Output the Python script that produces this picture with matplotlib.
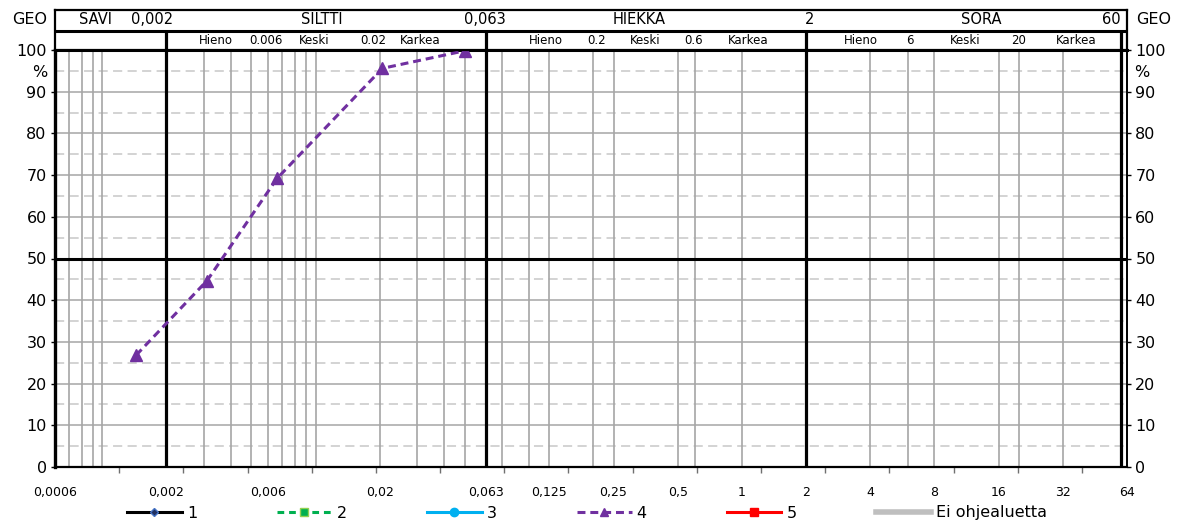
import matplotlib
matplotlib.use('Agg')
import matplotlib.pyplot as plt

# Rakeisuuskayra (naytteen 4 pisteet, luettu kuvasta)
raekoko = [0.00144, 0.0031, 0.0066, 0.0206, 0.05]   # mm
lapaisy = [26.8, 44.7, 69.2, 95.6, 99.8]            # %

# x-akselin tekstit
x_arvot = [0.0006, 0.002, 0.006, 0.02, 0.063, 0.125, 0.25, 0.5, 1, 2, 4, 8, 16, 32, 64]
x_tekstit = ['0,0006', '0,002', '0,006', '0,02', '0,063', '0,125', '0,25', '0,5',
             '1', '2', '4', '8', '16', '32', '64']
# pienet jakoviivat (0.0006 * 2^k)
x_pienet = [0.0006 * 2 ** k for k in range(17)]

# harmaat pystyviivat
pysty = [0.0007, 0.0008, 0.0009, 0.001, 0.003, 0.004, 0.005, 0.006, 0.007, 0.008,
         0.009, 0.01, 0.02, 0.03, 0.04, 0.05, 0.075, 0.1, 0.125, 0.2, 0.25, 0.5,
         0.6, 1, 4, 6, 8, 16, 20, 32]
rajat = [0.002, 0.063, 2, 60]   # GEO-luokkien rajat

y_arvot = [0, 10, 20, 30, 40, 50, 60, 70, 80, 90, 100]
y_katko = [5, 15, 25, 35, 45, 55, 65, 75, 85, 95]

# otsikkorivit: (teksti, osuus x-akselista)
rivi1 = [('SAVI', 0.038), ('0,002', 0.0905), ('SILTTI', 0.249), ('0,063', 0.401),
         ('HIEKKA', 0.5448), ('2', 0.7043), ('SORA', 0.8638), ('60', 0.9851)]
rivi2 = [('Hieno', 0.150), ('0.006', 0.197), ('Keski', 0.2416), ('0.02', 0.2966),
         ('Karkea', 0.3405), ('Hieno', 0.458), ('0.2', 0.5056), ('Keski', 0.5504),
         ('0.6', 0.596), ('Karkea', 0.6465), ('Hieno', 0.7519), ('6', 0.7976),
         ('Keski', 0.8489), ('20', 0.8993), ('Karkea', 0.9524)]

W, H = 1182, 523
fig = plt.figure(figsize=(W / 100, H / 100), dpi=100)
ax = fig.add_axes([55 / W, 56 / H, 1072 / W, 417 / H])
hdr = fig.add_axes([55 / W, 473 / H, 1072 / W, 40 / H])

for a in (ax, hdr):
    a.set_xscale('log')
    a.set_xlim(0.0006, 64)

# ruudukko
for y in y_katko:
    ax.axhline(y, color='#C8C8C8', lw=1.1, ls=(0, (6, 3.5)), zorder=1)
for y in y_arvot[1:-1]:
    ax.axhline(y, color='#A6A6A6', lw=1.1, zorder=1)
for x in pysty:
    ax.axvline(x, color='#A6A6A6', lw=1.2, zorder=2)
for x in rajat:
    ax.axvline(x, color='black', lw=2.3, zorder=3)
ax.axhline(50, color='black', lw=2.2, zorder=3)

# sarjat (vain 4 sisaltaa pisteita)
l1, = ax.plot([], [], color='black', lw=2.2, marker='D', ms=5, mfc='#1F2F5F', mec='#4472C4')
l2, = ax.plot([], [], color='#00B050', lw=2.2, ls=(0, (2.2, 1.6)), marker='s', ms=8,
              mfc='#00B050', mec='#92D050')
l3, = ax.plot([], [], color='#00B0F0', lw=2.2, marker='o', ms=8)
l4, = ax.plot(raekoko, lapaisy, color='#7030A0', lw=2.2, ls=(0, (2.6, 1.6)),
              marker='^', ms=8, zorder=5, clip_on=False)
l5, = ax.plot([], [], color='red', lw=2.2, marker='s', ms=8)
l6, = ax.plot([], [], color='#BFBFBF', lw=4)

ax.set_ylim(0, 100)
ax.set_yticks(y_arvot)
ax.tick_params(axis='y', which='both', left=True, right=True, labelleft=True,
               labelright=True, length=3, width=1, pad=3, labelsize=11.5)
ax.set_xticks(x_arvot, x_tekstit)
ax.set_xticks(x_pienet, minor=True)
ax.xaxis.set_minor_formatter(matplotlib.ticker.NullFormatter())
ax.tick_params(axis='x', which='major', length=0, pad=14, labelsize=9)
ax.tick_params(axis='x', which='minor', length=4, width=1, color='#707070')

ax.spines['left'].set_linewidth(2.4)
ax.spines['top'].set_linewidth(2.2)
ax.spines['bottom'].set_linewidth(1.6)
ax.spines['right'].set_linewidth(1.4)

ax.text(-0.007, 94.5, '%', transform=ax.get_yaxis_transform(), ha='right', va='center', fontsize=11.5)
ax.text(1.007, 94.5, '%', transform=ax.get_yaxis_transform(), ha='left', va='center', fontsize=11.5)

# otsikkokaista
hdr.set_ylim(0, 1)
hdr.set_xticks([])
hdr.set_xticks([], minor=True)
hdr.set_yticks([])
for s in hdr.spines.values():
    s.set_linewidth(1.6)
hdr.axhline(0.475, color='black', lw=2.2)
hdr.vlines(rajat, 0, 0.475, color='black', lw=2.3)

for t, fx in rivi1:
    hdr.text(fx, 0.75, t, transform=hdr.transAxes, ha='center', va='center', fontsize=10.5)
for t, fx in rivi2:
    hdr.text(fx, 0.23, t, transform=hdr.transAxes, ha='center', va='center', fontsize=8.5)

fig.text(30 / W, 1 - 19 / H, 'GEO', ha='center', va='center', fontsize=11.5)
fig.text(1154 / W, 1 - 19 / H, 'GEO', ha='center', va='center', fontsize=11.5)

fig.legend([l1, l2, l3, l4, l5, l6], ['1', '2', '3', '4', '5', 'Ei ohjealuetta'],
           loc='center left', bbox_to_anchor=(127 / W, 10 / H), ncol=6, frameon=False,
           fontsize=11.5, handlelength=3.44, handletextpad=0.31, columnspacing=5.0,
           borderpad=0, borderaxespad=0, markerscale=0.75)

plt.savefig('out.png', dpi=100)
